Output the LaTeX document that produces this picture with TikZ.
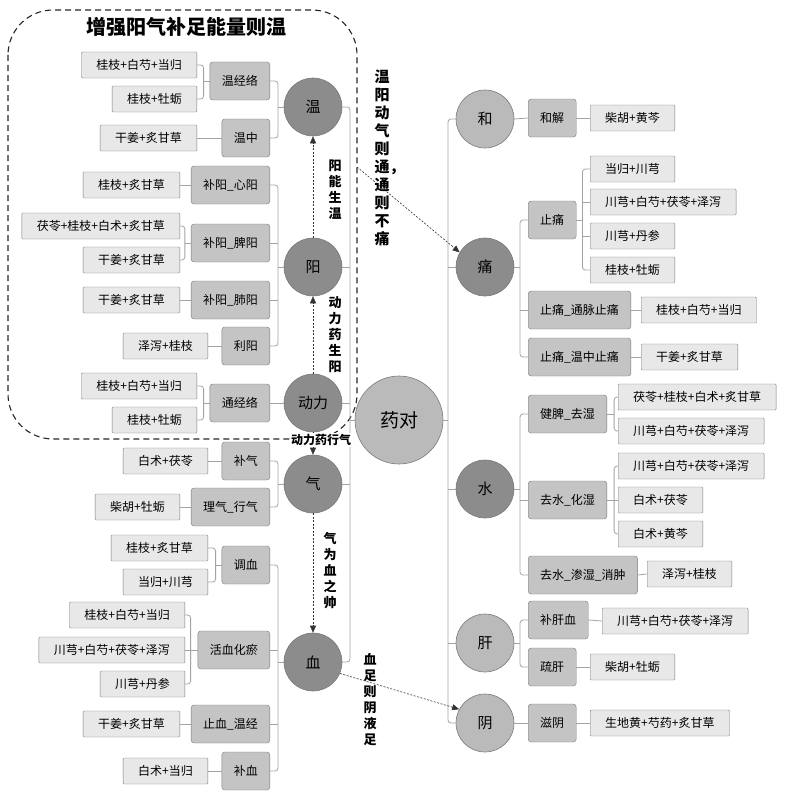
\documentclass[tikz,border=0pt]{standalone}
\usepackage{fontspec}
\setmainfont{Noto Sans CJK SC}
\usetikzlibrary{arrows.meta}
\definecolor{ydark}{HTML}{8C8C8C}
\definecolor{ylight}{HTML}{BABABA}
\definecolor{ymid}{HTML}{C4C4C4}
\definecolor{yleaf}{HTML}{E8E8E8}
\definecolor{yedge}{HTML}{7A7A7A}
\definecolor{yline}{HTML}{A3A3A3}

\begin{document}
\begin{tikzpicture}[x=1pt,y=-1pt,>=Stealth,
  cir/.style={circle,draw=yedge,line width=0.6pt,minimum size=58pt,inner sep=0pt,
    font=\fontsize{15}{15}\selectfont},
  cdark/.style={cir,fill=ydark},
  clight/.style={cir,fill=ylight},
  mid/.style={draw=yedge,fill=ymid,rounded corners=3pt,minimum height=38pt,
    inner xsep=12pt,inner ysep=0pt,font=\fontsize{12}{12}\selectfont},
  leaf/.style={draw=yedge,fill=yleaf,rounded corners=1pt,minimum height=26pt,
    inner xsep=15pt,inner ysep=0pt,font=\fontsize{12}{12}\selectfont},
  ln/.style={draw=yline,line width=0.8pt,rounded corners=3pt},
  dar/.style={draw=black!80,line width=0.6pt,dash pattern=on 2pt off 1.5pt,
    -{Triangle[length=7pt,width=6pt]}},
  frame/.style={draw=black!85,line width=1.1pt,dash pattern=on 6pt off 4pt,rounded corners=45pt},
  vl/.style={align=center,inner sep=0pt,font=\bfseries\fontsize{13}{16}\selectfont},
  vlb/.style={align=center,inner sep=0pt,font=\bfseries\fontsize{15}{18}\selectfont}]
\useasboundingbox (0,0) rectangle (784,800);

% dashed frame round the yang part
\draw[frame] (8,10) rectangle (357,439);
\coordinate (fre) at (357,167);
\node[font=\bfseries\fontsize{20}{20}\selectfont] (ttl) at (186,27) {增强阳气补足能量则温};

% circles
\node[cir,fill=ylight,minimum size=88pt,font=\fontsize{19}{19}\selectfont] (yaodui) at (399,420) {药对};
\node[cdark] (wen) at (313,107) {温};
\node[cdark] (yang) at (313,267) {阳};
\node[cdark] (dongli) at (313,403) {动力};
\node[cdark] (qi) at (313,484) {气};
\node[cdark] (xue) at (313,662) {血};
\node[clight] (he) at (485,119) {和};
\node[cdark] (tong) at (485,267) {痛};
\node[cdark] (shui) at (485,489) {水};
\node[clight] (gan) at (485,643) {肝};
\node[clight] (yin) at (485,723) {阴};

% left middle boxes
\node[mid,anchor=east] (wjl) at (270,81) {温经络};
\node[mid,anchor=east] (wz) at (270,138) {温中};
\node[mid,anchor=east] (xy) at (270,185) {补阳\_心阳};
\node[mid,anchor=east] (py) at (270,243) {补阳\_脾阳};
\node[mid,anchor=east] (fy) at (270,300) {补阳\_肺阳};
\node[mid,anchor=east] (ly) at (270,346) {利阳};
\node[mid,anchor=east] (tjl) at (270,403) {通经络};
\node[mid,anchor=east] (bq) at (270,461) {补气};
\node[mid,anchor=east] (lq) at (270,507) {理气\_行气};
\node[mid,anchor=east] (tx) at (270,565) {调血};
\node[mid,anchor=east] (hx) at (270,650) {活血化瘀};
\node[mid,anchor=east] (zx) at (270,724) {止血\_温经};
\node[mid,anchor=east] (bx) at (270,771) {补血};

% left leaves
\node[leaf,anchor=east] (l1) at (197,65) {桂枝+白芍+当归};
\node[leaf,anchor=east] (l2) at (197,99) {桂枝+牡蛎};
\node[leaf,anchor=east] (l3) at (197,138) {干姜+炙甘草};
\node[leaf,anchor=east] (l4) at (180,185) {桂枝+炙甘草};
\node[leaf,anchor=east] (l5) at (180,226) {茯苓+桂枝+白术+炙甘草};
\node[leaf,anchor=east] (l6) at (180,260) {干姜+炙甘草};
\node[leaf,anchor=east] (l7) at (180,300) {干姜+炙甘草};
\node[leaf,anchor=east] (l8) at (208,346) {泽泻+桂枝};
\node[leaf,anchor=east] (l9) at (197,386) {桂枝+白芍+当归};
\node[leaf,anchor=east] (l10) at (197,420) {桂枝+牡蛎};
\node[leaf,anchor=east] (l11) at (208,461) {白术+茯苓};
\node[leaf,anchor=east] (l12) at (180,507) {柴胡+牡蛎};
\node[leaf,anchor=east] (l13) at (208,548) {桂枝+炙甘草};
\node[leaf,anchor=east] (l14) at (208,582) {当归+川芎};
\node[leaf,anchor=east] (l15) at (185,615) {桂枝+白芍+当归};
\node[leaf,anchor=east] (l16) at (185,650) {川芎+白芍+茯苓+泽泻};
\node[leaf,anchor=east] (l17) at (185,684) {川芎+丹参};
\node[leaf,anchor=east] (l18) at (180,724) {干姜+炙甘草};
\node[leaf,anchor=east] (l19) at (208,771) {白术+当归};

% right middle boxes
\node[mid,anchor=west] (hj) at (528,118) {和解};
\node[mid,anchor=west] (zt) at (528,220) {止痛};
\node[mid,anchor=west] (ztm) at (528,310) {止痛\_通脉止痛};
\node[mid,anchor=west] (ztw) at (528,357) {止痛\_温中止痛};
\node[mid,anchor=west] (jp) at (528,414) {健脾\_去湿};
\node[mid,anchor=west] (hs) at (528,500) {去水\_化湿};
\node[mid,anchor=west] (xz) at (528,575) {去水\_渗湿\_消肿};
\node[mid,anchor=west] (bgx) at (528,620) {补肝血};
\node[mid,anchor=west] (sg) at (528,667) {疏肝};
\node[mid,anchor=west] (zy) at (528,723) {滋阴};

% right leaves
\node[leaf,anchor=west] (r1) at (590,118) {柴胡+黄芩};
\node[leaf,anchor=west] (r2) at (590,169) {当归+川芎};
\node[leaf,anchor=west] (r3) at (590,202) {川芎+白芍+茯苓+泽泻};
\node[leaf,anchor=west] (r4) at (590,236) {川芎+丹参};
\node[leaf,anchor=west] (r5) at (590,270) {桂枝+牡蛎};
\node[leaf,anchor=west] (r6) at (641,310) {桂枝+白芍+当归};
\node[leaf,anchor=west] (r7) at (641,357) {干姜+炙甘草};
\node[leaf,anchor=west] (r8) at (618,397) {茯苓+桂枝+白术+炙甘草};
\node[leaf,anchor=west] (r9) at (618,431) {川芎+白芍+茯苓+泽泻};
\node[leaf,anchor=west] (r10) at (618,466) {川芎+白芍+茯苓+泽泻};
\node[leaf,anchor=west] (r11) at (618,500) {白术+茯苓};
\node[leaf,anchor=west] (r12) at (618,534) {白术+黄芩};
\node[leaf,anchor=west] (r13) at (647,574) {泽泻+桂枝};
\node[leaf,anchor=west] (r14) at (602,621) {川芎+白芍+茯苓+泽泻};
\node[leaf,anchor=west] (r15) at (590,667) {柴胡+牡蛎};
\node[leaf,anchor=west] (r16) at (590,723) {生地黄+芍药+炙甘草};

% trunks
\coordinate (tl) at (350,420);
\coordinate (tr) at (448,420);
\draw[ln] (wen.east) -| (tl) |- (xue.east);
\foreach \n in {yang,dongli,qi} \draw[ln] (\n.east) -- (\n.east -| tl);
\draw[ln] (yaodui.west) -- (tl);
\draw[ln] (he.west) -| (tr) |- (yin.west);
\foreach \n in {tong,shui,gan} \draw[ln] (\n.west) -- (\n.west -| tr);
\draw[ln] (yaodui.east) -- (tr);

% circle to middle boxes
\coordinate (bl) at (278,0);
\coordinate (br) at (520,0);
\draw[ln] (wjl.east) -| (wen.west -| bl) |- (wz.east);
\draw[ln] (xy.east) -| (yang.west -| bl) |- (ly.east);
\draw[ln] (bq.east) -| (qi.west -| bl) |- (lq.east);
\draw[ln] (tx.east) -| (xue.west -| bl) |- (bx.east);
\foreach \n in {py,fy,hx,zx} \draw[ln] (\n.east) -- (\n.east -| bl);
\foreach \n in {wen,yang,qi,xue} \draw[ln] (\n.west) -- (\n.west -| bl);
\draw[ln] (dongli.west) -- (tjl.east);
\draw[ln] (zt.west) -| (tong.east -| br) |- (ztw.west);
\draw[ln] (jp.west) -| (shui.east -| br) |- (xz.west);
\draw[ln] (bgx.west) -| (gan.east -| br) |- (sg.west);
\foreach \n in {ztm,hs} \draw[ln] (\n.west) -- (\n.west -| br);
\foreach \n in {tong,shui,gan} \draw[ln] (\n.east) -- (\n.east -| br);
\draw[ln] (he.east) -- (hj.west);
\draw[ln] (yin.east) -- (zy.west);

% middle boxes to leaves
\draw[ln] (l1.east) -| ([xshift=-6pt]wjl.west) |- (l2.east);
\draw[ln] (wjl.west) -- ([xshift=-6pt]wjl.west);
\draw[ln] (l5.east) -| ([xshift=-6pt]py.west) |- (l6.east);
\draw[ln] (py.west) -- ([xshift=-6pt]py.west);
\draw[ln] (l9.east) -| ([xshift=-6pt]tjl.west) |- (l10.east);
\draw[ln] (tjl.west) -- ([xshift=-6pt]tjl.west);
\draw[ln] (l13.east) -| ([xshift=-6pt]tx.west) |- (l14.east);
\draw[ln] (tx.west) -- ([xshift=-6pt]tx.west);
\draw[ln] (l15.east) -| ([xshift=-7pt]hx.west) |- (l17.east);
\draw[ln] (l16.east) -- (hx.west);
\foreach \a/\b in {l3/wz,l4/xy,l7/fy,l8/ly,l11/bq,l12/lq,l18/zx,l19/bx}
  \draw[ln] (\a.east) -- (\b.west);
\coordinate (ztb) at ([xshift=6pt]zt.east);
\coordinate (jpb) at ([xshift=7pt]jp.east);
\draw[ln] (r2.west) -| (ztb) |- (r5.west);
\draw[ln] (r3.west) -- (r3.west -| ztb);
\draw[ln] (r4.west) -- (r4.west -| ztb);
\draw[ln] (zt.east) -- (ztb);
\draw[ln] (r8.west) -| (jpb) |- (r9.west);
\draw[ln] (jp.east) -- (jpb);
\draw[ln] (r10.west) -| ([xshift=7pt]hs.east) |- (r12.west);
\draw[ln] (hs.east) -- (r11.west);
\foreach \a/\b in {r1/hj,r6/ztm,r7/ztw,r13/xz,r14/bgx,r15/sg,r16/zy}
  \draw[ln] (\a.west) -- (\b.east);

% dashed arrows and their labels
\draw[dar] (yang.north) -- (wen.south);
\draw[dar] (dongli.north) -- (yang.south);
\draw[dar] (dongli.south) -- (qi.north);
\draw[dar] (qi.south) -- (xue.north);
\draw[dar] (fre) -- (tong.150);
\draw[dar] (xue.-23) -- (yin.152);
\node[vl] (lyw) at (335,190) {阳\\能\\生\\温};
\node[vl] (ldy) at (335,335) {动\\力\\药\\生\\阳};
\node[font=\bfseries\fontsize{12}{12}\selectfont,fill=white,inner sep=1pt] (ldq) at (321,440) {动力药行气};
\node[vl] (lqx) at (330,571) {气\\为\\血\\之\\帅};
\node[vl] (lxy) at (370,700) {血\\足\\则\\阴\\液\\足};
\node[vlb] (lwt) at (382,158) {温\\阳\\动\\气\\则\\通\rlap{，}\\通\\则\\不\\痛};
\end{tikzpicture}
\end{document}
